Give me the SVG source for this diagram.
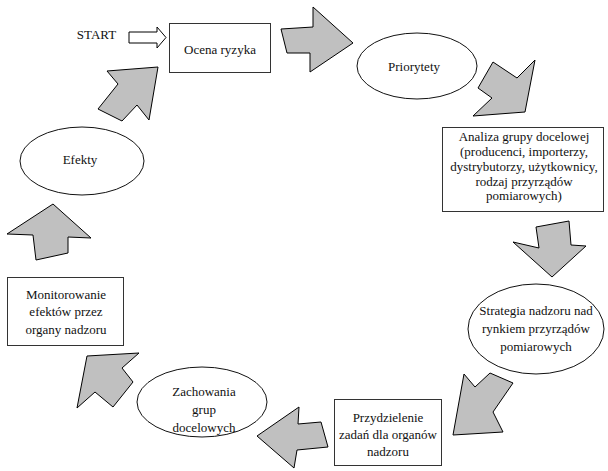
<svg xmlns="http://www.w3.org/2000/svg" width="608" height="471" viewBox="0 0 608 471">
<style>
.box{fill:#fff;stroke:#333;stroke-width:1}
.ell{fill:#fff;stroke:#111;stroke-width:1}
.arr{fill:#c0c0c0;stroke:#000;stroke-width:1;stroke-linejoin:miter}
.start{fill:#fff;stroke:#000;stroke-width:1}
.t{font-family:'Liberation Serif','Tinos','DejaVu Serif',serif;font-size:13px;fill:#111;text-anchor:middle}
</style>
<rect width="608" height="471" fill="#fff"/>
<g id="connectors">
<polygon class="start" points="129,32 157,32 157,27 166,37.5 157,48 157,43 129,43"/>
<polygon class="arr" points="281,29 313,27 313,7 353,43 310,72 310,53 287,53"/>
<polygon class="arr" points="493,62 517,78 535,60 525,112 473,116 492,98 478,88"/>
<polygon class="arr" points="536,227 569,221 571,245 586,246 552,277 513,242 539,248"/>
<polygon class="arr" points="464,374 475,387 490,373 513,383 493,412 503,432 453,435"/>
<polygon class="arr" points="257,436 299,407 298,424 321,422 328,447 297,450 294,468"/>
<polygon class="arr" points="87,356 139,353 122,368 133,382 113,407 95,392 77,408"/>
<polygon class="arr" points="53,204 91,238 68,237 68,253 36,260 33,235 7,234"/>
<polygon class="arr" points="158,67 107,71 118,84 98,109 122,121 137,105 149,120"/>
</g>
<g id="start"><text class="t" x="96.5" y="39">START</text></g>
<g id="ocena">
<rect class="box" x="169.5" y="23.5" width="101" height="49"/>
<text class="t" x="220" y="54">Ocena ryzyka</text>
</g>
<g id="priorytety">
<ellipse class="ell" cx="417" cy="66" rx="60" ry="33"/>
<text class="t" x="414" y="71">Priorytety</text>
</g>
<g id="analiza">
<rect class="box" x="442.5" y="127.5" width="161" height="84"/>
<text class="t" x="524" y="141">Analiza grupy docelowej</text>
<text class="t" x="524" y="156">(producenci, importerzy,</text>
<text class="t" x="524" y="171">dystrybutorzy, użytkownicy,</text>
<text class="t" x="524" y="186">rodzaj przyrządów</text>
<text class="t" x="524" y="200">pomiarowych)</text>
</g>
<g id="strategia">
<ellipse class="ell" cx="536" cy="329" rx="68" ry="45"/>
<text class="t" x="536" y="315">Strategia nadzoru nad</text>
<text class="t" x="536" y="333">rynkiem przyrządów</text>
<text class="t" x="536" y="351">pomiarowych</text>
</g>
<g id="przydzielenie">
<rect class="box" x="334.5" y="399.5" width="107" height="66"/>
<text class="t" x="388" y="422">Przydzielenie</text>
<text class="t" x="388" y="439">zadań dla organów</text>
<text class="t" x="388" y="456">nadzoru</text>
</g>
<g id="zachowania">
<ellipse class="ell" cx="202" cy="402" rx="65" ry="35"/>
<text class="t" x="204" y="396">Zachowania</text>
<text class="t" x="204" y="414">grup</text>
<text class="t" x="204" y="432">docelowych</text>
</g>
<g id="monitorowanie">
<rect class="box" x="7.5" y="277.5" width="116" height="68"/>
<text class="t" x="66" y="299">Monitorowanie</text>
<text class="t" x="66" y="316">efektów przez</text>
<text class="t" x="66" y="334">organy nadzoru</text>
</g>
<g id="efekty">
<ellipse class="ell" cx="82" cy="161" rx="62" ry="34"/>
<text class="t" x="80" y="164">Efekty</text>
</g>
</svg>
